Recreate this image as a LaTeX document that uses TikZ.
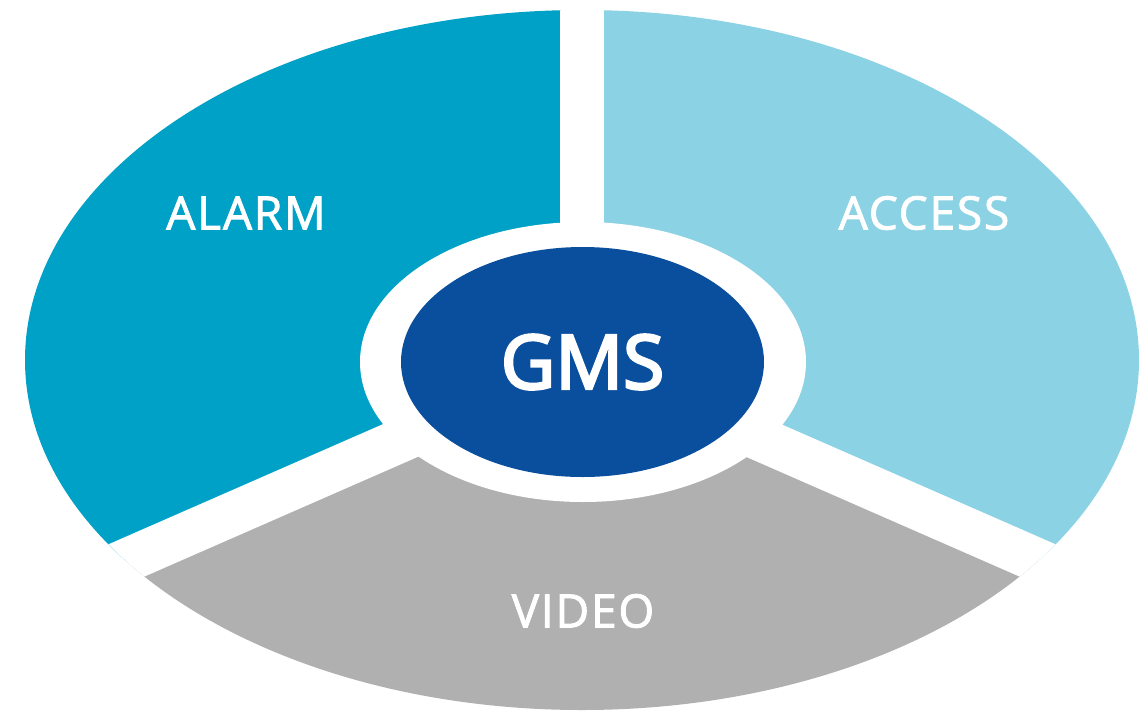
\documentclass[tikz,border=0pt]{standalone}
\usepackage{fontspec}
\usetikzlibrary{shapes.geometric}
\setmainfont{Open Sans}
\newfontfamily\labfont{Open Sans}[FakeBold=2, LetterSpace=4]
\newfontfamily\gmsfont{Open Sans}[FakeBold=3.5]
\definecolor{alarmc}{RGB}{0,161,198}
\definecolor{accessc}{RGB}{139,210,228}
\definecolor{videoc}{RGB}{176,176,176}
\definecolor{gmsc}{RGB}{10,78,158}
\tikzset{
  seglabel/.style={text=white, font=\labfont\fontsize{46}{55}\selectfont, inner sep=0pt},
  gmslabel/.style={text=white, font=\gmsfont\fontsize{75}{90}\selectfont, inner sep=0pt},
  gap/.style={white, line width=44pt}
}
\begin{document}
\begin{tikzpicture}[x=1pt,y=-1pt]
\useasboundingbox (0,0) rectangle (1144,713);
\coordinate (C) at (582,361);
\coordinate (T) at (582,-1000);
\coordinate (L) at (-1250,1163);
\coordinate (R) at (2414,1163);
\begin{scope}
  \clip (582,360) ellipse [x radius=557, y radius=350];
  \fill[alarmc] (C) -- (T) -- (-1250,-1000) -- (L) -- cycle;
  \fill[accessc] (C) -- (T) -- (2414,-1000) -- (R) -- cycle;
  \fill[videoc] (C) -- (L) -- (R) -- cycle;
  \draw[gap] (C) -- (T);
  \draw[gap] (C) -- (L);
  \draw[gap] (C) -- (R);
\end{scope}
\fill[white] (583,362) ellipse [x radius=223, y radius=140];
\node[fill=gmsc, ellipse, minimum width=363pt, minimum height=230pt, inner sep=0pt] (gms) at (582.5,362) {};
\node[gmslabel] (gmst) at (582.5,362) {GMS};
\node[seglabel] (alarm) at (246,213) {ALARM};
\node[seglabel] (access) at (924,213) {ACCESS};
\node[seglabel] (video) at (583,611) {VIDEO};
\end{tikzpicture}
\end{document}
